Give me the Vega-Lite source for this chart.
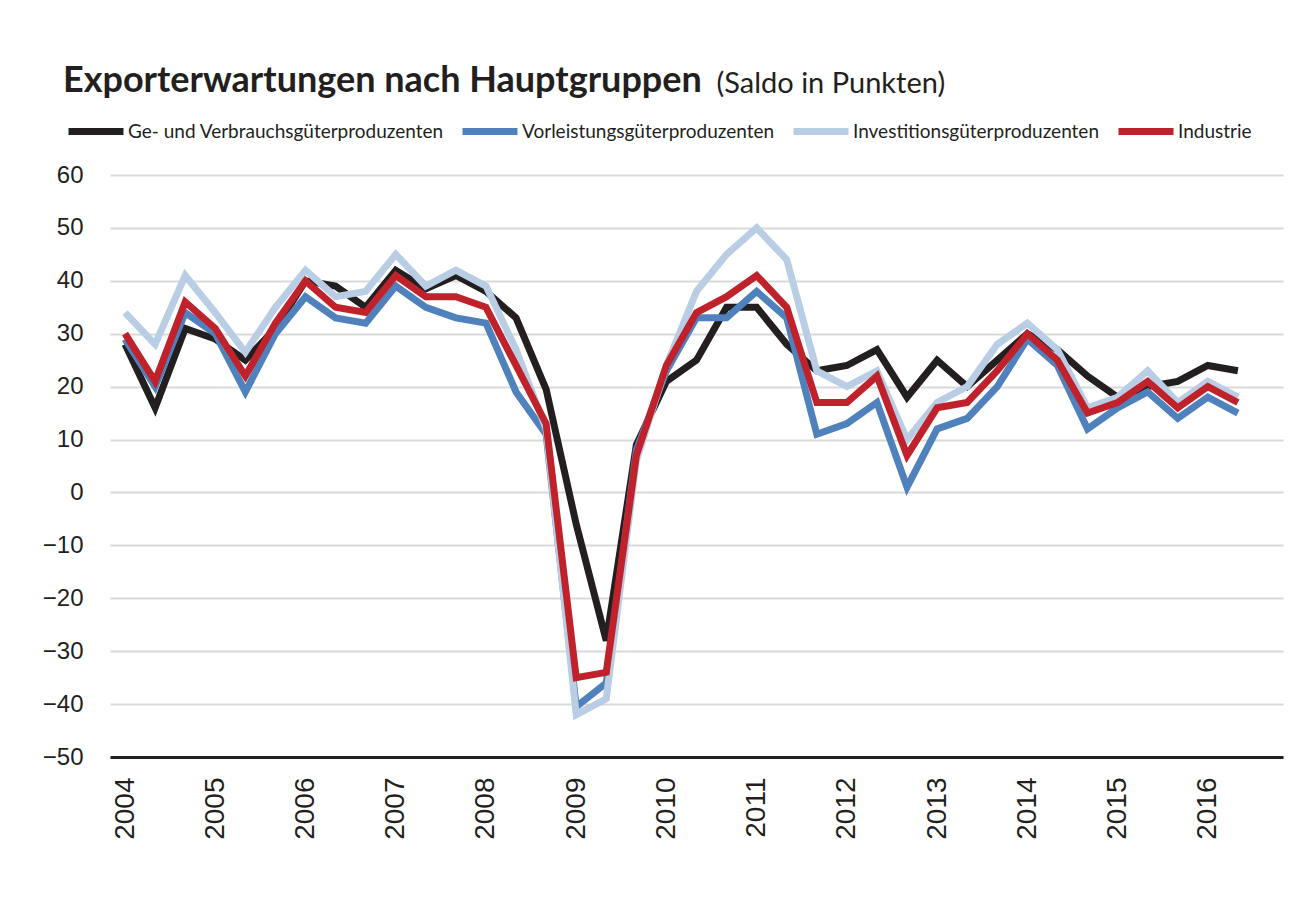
{
  "$schema": "https://vega.github.io/schema/vega-lite/v6.json",
  "width": 1173,
  "height": 582,
  "autosize": {"type": "none"},
  "padding": {"left": 110, "top": 175, "right": 25, "bottom": 146},
  "background": "white",
  "title": {
    "text": "Exporterwartungen nach Hauptgruppen",
    "anchor": "start",
    "frame": "group",
    "dx": -47,
    "offset": -31,
    "font": "Lato",
    "fontSize": 36,
    "fontWeight": "bold",
    "color": "#231f20"
  },
  "data": {
    "values": [
      {"Zeit": 2004, "Ge- und Verbrauchsgüterproduzenten": 28, "Vorleistungsgüterproduzenten": 29, "Investitionsgüterproduzenten": 34, "Industrie": 30},
      {"Zeit": 2004.3333, "Ge- und Verbrauchsgüterproduzenten": 16, "Vorleistungsgüterproduzenten": 20, "Investitionsgüterproduzenten": 28, "Industrie": 21},
      {"Zeit": 2004.6667, "Ge- und Verbrauchsgüterproduzenten": 31, "Vorleistungsgüterproduzenten": 34, "Investitionsgüterproduzenten": 41, "Industrie": 36},
      {"Zeit": 2005, "Ge- und Verbrauchsgüterproduzenten": 29, "Vorleistungsgüterproduzenten": 30, "Investitionsgüterproduzenten": 34, "Industrie": 31},
      {"Zeit": 2005.3333, "Ge- und Verbrauchsgüterproduzenten": 25, "Vorleistungsgüterproduzenten": 19, "Investitionsgüterproduzenten": 26.5, "Industrie": 22},
      {"Zeit": 2005.6667, "Ge- und Verbrauchsgüterproduzenten": 31, "Vorleistungsgüterproduzenten": 30, "Investitionsgüterproduzenten": 35, "Industrie": 32},
      {"Zeit": 2006, "Ge- und Verbrauchsgüterproduzenten": 40, "Vorleistungsgüterproduzenten": 37, "Investitionsgüterproduzenten": 42, "Industrie": 40},
      {"Zeit": 2006.3333, "Ge- und Verbrauchsgüterproduzenten": 39, "Vorleistungsgüterproduzenten": 33, "Investitionsgüterproduzenten": 37, "Industrie": 35},
      {"Zeit": 2006.6667, "Ge- und Verbrauchsgüterproduzenten": 35, "Vorleistungsgüterproduzenten": 32, "Investitionsgüterproduzenten": 38, "Industrie": 34},
      {"Zeit": 2007, "Ge- und Verbrauchsgüterproduzenten": 42, "Vorleistungsgüterproduzenten": 39, "Investitionsgüterproduzenten": 45, "Industrie": 41},
      {"Zeit": 2007.3333, "Ge- und Verbrauchsgüterproduzenten": 38.5, "Vorleistungsgüterproduzenten": 35, "Investitionsgüterproduzenten": 39, "Industrie": 37},
      {"Zeit": 2007.6667, "Ge- und Verbrauchsgüterproduzenten": 41, "Vorleistungsgüterproduzenten": 33, "Investitionsgüterproduzenten": 42, "Industrie": 37},
      {"Zeit": 2008, "Ge- und Verbrauchsgüterproduzenten": 38, "Vorleistungsgüterproduzenten": 32, "Investitionsgüterproduzenten": 39, "Industrie": 35},
      {"Zeit": 2008.3333, "Ge- und Verbrauchsgüterproduzenten": 33, "Vorleistungsgüterproduzenten": 19, "Investitionsgüterproduzenten": 27, "Industrie": 24},
      {"Zeit": 2008.6667, "Ge- und Verbrauchsgüterproduzenten": 19.5, "Vorleistungsgüterproduzenten": 11, "Investitionsgüterproduzenten": 12, "Industrie": 13},
      {"Zeit": 2009, "Ge- und Verbrauchsgüterproduzenten": -6, "Vorleistungsgüterproduzenten": -40.5, "Investitionsgüterproduzenten": -42, "Industrie": -35},
      {"Zeit": 2009.3333, "Ge- und Verbrauchsgüterproduzenten": -28, "Vorleistungsgüterproduzenten": -36, "Investitionsgüterproduzenten": -39, "Industrie": -34},
      {"Zeit": 2009.6667, "Ge- und Verbrauchsgüterproduzenten": 9, "Vorleistungsgüterproduzenten": 8, "Investitionsgüterproduzenten": 6, "Industrie": 7},
      {"Zeit": 2010, "Ge- und Verbrauchsgüterproduzenten": 21, "Vorleistungsgüterproduzenten": 23, "Investitionsgüterproduzenten": 24, "Industrie": 24},
      {"Zeit": 2010.3333, "Ge- und Verbrauchsgüterproduzenten": 25, "Vorleistungsgüterproduzenten": 33, "Investitionsgüterproduzenten": 38, "Industrie": 34},
      {"Zeit": 2010.6667, "Ge- und Verbrauchsgüterproduzenten": 35, "Vorleistungsgüterproduzenten": 33, "Investitionsgüterproduzenten": 45, "Industrie": 37},
      {"Zeit": 2011, "Ge- und Verbrauchsgüterproduzenten": 35, "Vorleistungsgüterproduzenten": 38, "Investitionsgüterproduzenten": 50, "Industrie": 41},
      {"Zeit": 2011.3333, "Ge- und Verbrauchsgüterproduzenten": 28, "Vorleistungsgüterproduzenten": 33, "Investitionsgüterproduzenten": 44, "Industrie": 35},
      {"Zeit": 2011.6667, "Ge- und Verbrauchsgüterproduzenten": 23, "Vorleistungsgüterproduzenten": 11, "Investitionsgüterproduzenten": 23, "Industrie": 17},
      {"Zeit": 2012, "Ge- und Verbrauchsgüterproduzenten": 24, "Vorleistungsgüterproduzenten": 13, "Investitionsgüterproduzenten": 20, "Industrie": 17},
      {"Zeit": 2012.3333, "Ge- und Verbrauchsgüterproduzenten": 27, "Vorleistungsgüterproduzenten": 17, "Investitionsgüterproduzenten": 23, "Industrie": 22},
      {"Zeit": 2012.6667, "Ge- und Verbrauchsgüterproduzenten": 18, "Vorleistungsgüterproduzenten": 1, "Investitionsgüterproduzenten": 10, "Industrie": 7},
      {"Zeit": 2013, "Ge- und Verbrauchsgüterproduzenten": 25, "Vorleistungsgüterproduzenten": 12, "Investitionsgüterproduzenten": 17, "Industrie": 16},
      {"Zeit": 2013.3333, "Ge- und Verbrauchsgüterproduzenten": 20, "Vorleistungsgüterproduzenten": 14, "Investitionsgüterproduzenten": 20, "Industrie": 17},
      {"Zeit": 2013.6667, "Ge- und Verbrauchsgüterproduzenten": 25, "Vorleistungsgüterproduzenten": 20, "Investitionsgüterproduzenten": 28, "Industrie": 23},
      {"Zeit": 2014, "Ge- und Verbrauchsgüterproduzenten": 30, "Vorleistungsgüterproduzenten": 29, "Investitionsgüterproduzenten": 32, "Industrie": 30},
      {"Zeit": 2014.3333, "Ge- und Verbrauchsgüterproduzenten": 27, "Vorleistungsgüterproduzenten": 24, "Investitionsgüterproduzenten": 27, "Industrie": 25},
      {"Zeit": 2014.6667, "Ge- und Verbrauchsgüterproduzenten": 22, "Vorleistungsgüterproduzenten": 12, "Investitionsgüterproduzenten": 16, "Industrie": 15},
      {"Zeit": 2015, "Ge- und Verbrauchsgüterproduzenten": 18, "Vorleistungsgüterproduzenten": 16, "Investitionsgüterproduzenten": 18, "Industrie": 17},
      {"Zeit": 2015.3333, "Ge- und Verbrauchsgüterproduzenten": 20, "Vorleistungsgüterproduzenten": 19, "Investitionsgüterproduzenten": 23, "Industrie": 21},
      {"Zeit": 2015.6667, "Ge- und Verbrauchsgüterproduzenten": 21, "Vorleistungsgüterproduzenten": 14, "Investitionsgüterproduzenten": 17, "Industrie": 16},
      {"Zeit": 2016, "Ge- und Verbrauchsgüterproduzenten": 24, "Vorleistungsgüterproduzenten": 18, "Investitionsgüterproduzenten": 21, "Industrie": 20},
      {"Zeit": 2016.3333, "Ge- und Verbrauchsgüterproduzenten": 23, "Vorleistungsgüterproduzenten": 15, "Investitionsgüterproduzenten": 18, "Industrie": 17}
    ]
  },
  "transform": [
    {
      "fold": ["Ge- und Verbrauchsgüterproduzenten", "Vorleistungsgüterproduzenten", "Investitionsgüterproduzenten", "Industrie"],
      "as": ["Gruppe", "Saldo"]
    }
  ],
  "mark": {"type": "line", "strokeWidth": 7},
  "encoding": {
    "x": {
      "field": "Zeit",
      "type": "quantitative",
      "scale": {"domain": [2003.8333, 2016.8333], "nice": false, "zero": false},
      "axis": {
        "title": null,
        "values": [2004, 2005, 2006, 2007, 2008, 2009, 2010, 2011, 2012, 2013, 2014, 2015, 2016],
        "format": "d",
        "labelAngle": 270,
        "labelFont": "Liberation Sans",
        "labelFontSize": 28,
        "labelColor": "#231f20",
        "labelPadding": 20,
        "ticks": false,
        "tickSize": 0,
        "grid": false,
        "domainColor": "#231f20",
        "domainWidth": 3,
        "labelFlush": false,
        "labelOverlap": false
      }
    },
    "y": {
      "field": "Saldo",
      "type": "quantitative",
      "scale": {"domain": [-50, 60], "nice": false},
      "axis": {
        "title": "(Saldo in Punkten)",
        "titleAngle": 0,
        "titleX": 606,
        "titleY": -83,
        "titleAlign": "left",
        "titleBaseline": "alphabetic",
        "titleFont": "Lato",
        "titleFontSize": 29,
        "titleFontWeight": "normal",
        "titleColor": "#231f20",
        "values": [-50, -40, -30, -20, -10, 0, 10, 20, 30, 40, 50, 60],
        "labelFont": "Liberation Sans",
        "labelFontSize": 24,
        "labelColor": "#231f20",
        "labelPadding": 27,
        "ticks": false,
        "tickSize": 0,
        "domain": false,
        "grid": true,
        "gridColor": "#d9d9d9",
        "gridWidth": 2,
        "labelFlush": false,
        "labelOverlap": false
      }
    },
    "color": {
      "field": "Gruppe",
      "type": "nominal",
      "sort": null,
      "scale": {
        "domain": ["Ge- und Verbrauchsgüterproduzenten", "Vorleistungsgüterproduzenten", "Investitionsgüterproduzenten", "Industrie"],
        "range": ["#231f20", "#4f81bd", "#b9cde5", "#c0222b"]
      },
      "legend": {
        "orient": "none",
        "legendX": -45,
        "legendY": -74.5,
        "direction": "horizontal",
        "title": null,
        "padding": 0,
        "symbolType": "stroke",
        "symbolSize": 3025,
        "symbolStrokeWidth": 7,
        "labelFont": "Lato",
        "labelFontSize": 19,
        "labelColor": "#231f20",
        "labelOffset": 1,
        "columnPadding": 4,
        "labelLimit": 0
      }
    }
  },
  "config": {"view": {"stroke": null}}
}
